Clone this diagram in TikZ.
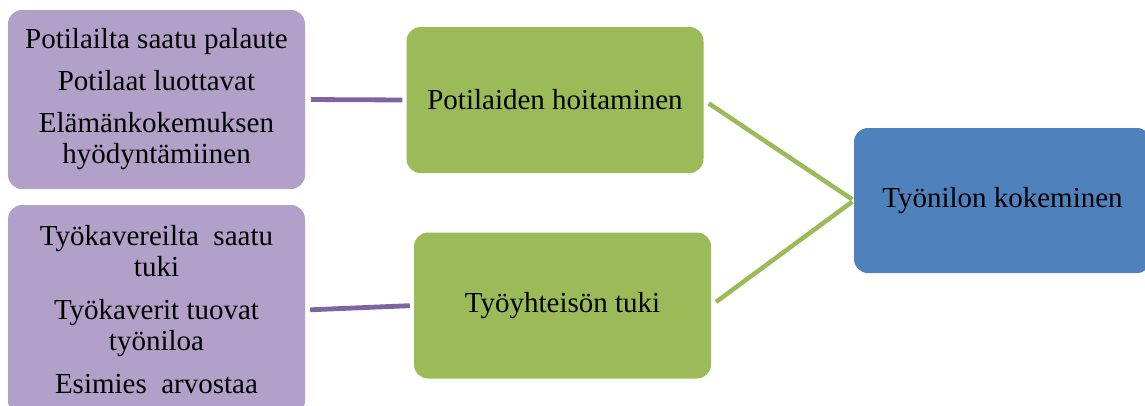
\documentclass[tikz,border=0pt]{standalone}
\usepackage{fontspec}
\setmainfont{Liberation Serif}
\definecolor{lilacfill}{HTML}{B1A0C7}
\definecolor{lilacline}{HTML}{8064A2}
\definecolor{leaf}{HTML}{9BBB59}
\definecolor{steel}{HTML}{4F81BD}
\begin{document}
\begin{tikzpicture}[x=1pt,y=-1pt,
  box/.style={rectangle, rounded corners=14pt, draw=none, align=center,
    inner sep=0pt, font=\fontsize{29}{31}\selectfont, text=black},
  sourcebox/.style={box, fill=lilacfill, minimum width=297pt},
  themebox/.style={box, fill=leaf, minimum width=297pt, minimum height=146pt},
  goalbox/.style={box, fill=steel, minimum width=297pt, minimum height=145pt},
  lilacwire/.style={draw=lilacline, line width=4.8pt},
  leafwire/.style={draw=leaf, line width=4.5pt}]
  \clip (0,0) rectangle (1145,405);
  \fill[white] (0,0) rectangle (1145,405);

  % left column: factors
  \node[sourcebox, minimum height=179pt] (s1) at (156.5,99.5)
    {Potilailta saatu palaute\\[11pt]Potilaat luottavat\\[11pt]Elämänkokemuksen\\hyödyntämiinen};
  \node[sourcebox, minimum height=210pt] (s2) at (156.5,310)
    {Työkavereilta\ \ saatu\\tuki\\[12pt]Työkaverit tuovat\\työniloa\\[12pt]Esimies\ \ arvostaa};

  % middle column: themes
  \node[themebox] (t1) at (555,100) {Potilaiden hoitaminen};
  \node[themebox] (t2) at (562.5,305.5) {Työyhteisön tuki};

  % right: outcome
  \node[goalbox] (g) at (1002.5,200.5) {Työnilon kokeminen};

  % connectors
  \draw[lilacwire, shorten <=6pt, shorten >=4pt] (s1.east) -- (t1.west);
  \draw[lilacwire, shorten <=5pt, shorten >=4pt] (s2.east) -- (t2.west);
  \draw[leafwire, shorten <=6pt, shorten >=2pt] (t1.east) -- (g.west);
  \draw[leafwire, shorten <=6pt, shorten >=2pt] (t2.east) -- (g.west);
\end{tikzpicture}
\end{document}
